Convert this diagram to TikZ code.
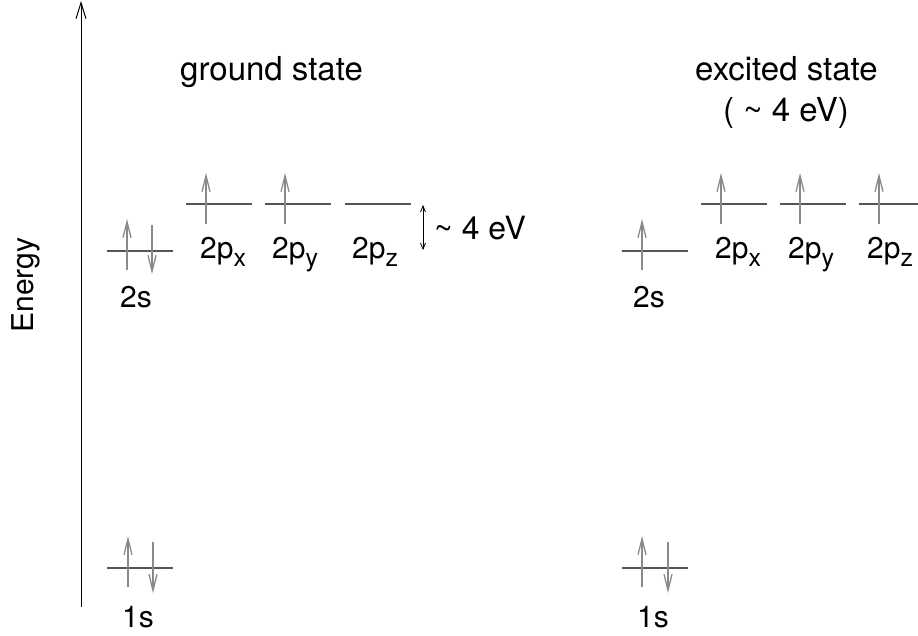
\documentclass[tikz,border=0pt]{standalone}
\usepackage{fontspec}
\setmainfont{TeX Gyre Heros}
\usetikzlibrary{arrows.meta}
\definecolor{levelgray}{HTML}{555555}
\definecolor{spingray}{HTML}{8A8A8A}
\newcommand\orbsub[1]{\raisebox{-8pt}{\fontsize{25}{30}\selectfont #1}}
\tikzset{
  lvl/.style={draw=levelgray, line width=1.6pt},
  spin/.style={draw=spingray, line width=1.3pt, -{Straight Barb[length=16pt,width=8pt]}},
  lab/.style={anchor=base west, inner sep=0pt, font=\fontsize{30}{36}\selectfont},
  ttl/.style={anchor=base west, inner sep=0pt, font=\fontsize{33}{39}\selectfont},
}
\begin{document}
\begin{tikzpicture}[x=1pt,y=-1pt]
\useasboundingbox (0,0) rectangle (918,635);
% energy axis
\coordinate (axb) at (81,607);
\coordinate (axt) at (81,1);
\draw[line width=1pt, -{Straight Barb[length=16pt,width=10pt]}] (axb) -- (axt);
\node[rotate=90, anchor=base, inner sep=0pt, font=\fontsize{30}{36}\selectfont] (energy) at (33,285) {Energy};
% titles
\node[ttl] (gtitle) at (180,80) {ground state};
\node[ttl] (etitle) at (695,80) {excited state};
\node[ttl] (etitle2) at (723,121) {( \textasciitilde{} 4 eV)};
% ground state levels
\draw[lvl] (107,568) coordinate (g1sL) -- (173,568) coordinate (g1sR);
\draw[lvl] (107,251) coordinate (g2sL) -- (173,251) coordinate (g2sR);
\draw[lvl] (186,204) coordinate (gpxL) -- (252,204) coordinate (gpxR);
\draw[lvl] (265,204) coordinate (gpyL) -- (331,204) coordinate (gpyR);
\draw[lvl] (345,204) coordinate (gpzL) -- (411,204) coordinate (gpzR);
% ground spins
\draw[spin] (128,587) -- (128,536);
\draw[spin] (153,542) -- (153,593);
\draw[spin] (127,270) -- (127,219);
\draw[spin] (152,225) -- (152,274);
\draw[spin] (206,224) -- (206,173);
\draw[spin] (285,224) -- (285,173);
% gap arrow
\coordinate (gapT) at (423,205);
\coordinate (gapB) at (423,250);
\draw[line width=0.8pt, {Straight Barb[length=6pt,width=5pt]}-{Straight Barb[length=6pt,width=5pt]}] (gapT) -- (gapB);
\node[anchor=base west, inner sep=0pt, font=\fontsize{32}{38}\selectfont] (gap) at (434,239) {\textasciitilde{} 4 eV};
% ground labels
\node[lab] (g1s) at (122,627) {1s};
\node[lab] (g2s) at (120,307) {2s};
\node[lab] (gpx) at (200,258) {2p\orbsub{x}};
\node[lab] (gpy) at (272,258) {2p\orbsub{y}};
\node[lab] (gpz) at (352,258) {2p\orbsub{z}};
% excited state levels
\draw[lvl] (622,568) coordinate (e1sL) -- (688,568) coordinate (e1sR);
\draw[lvl] (622,251) coordinate (e2sL) -- (688,251) coordinate (e2sR);
\draw[lvl] (701,204) coordinate (epxL) -- (767,204) coordinate (epxR);
\draw[lvl] (780,204) coordinate (epyL) -- (846,204) coordinate (epyR);
\draw[lvl] (859,204) coordinate (epzL) -- (925,204) coordinate (epzR);
% excited spins
\draw[spin] (642,587) -- (642,536);
\draw[spin] (668,542) -- (668,593);
\draw[spin] (642,270) -- (642,219);
\draw[spin] (721,224) -- (721,173);
\draw[spin] (800,224) -- (800,173);
\draw[spin] (879,224) -- (879,173);
% excited labels
\node[lab] (e1s) at (637,627) {1s};
\node[lab] (e2s) at (633,307) {2s};
\node[lab] (epx) at (715,258) {2p\orbsub{x}};
\node[lab] (epy) at (788,258) {2p\orbsub{y}};
\node[lab] (epz) at (867,258) {2p\orbsub{z}};
\end{tikzpicture}
\end{document}
